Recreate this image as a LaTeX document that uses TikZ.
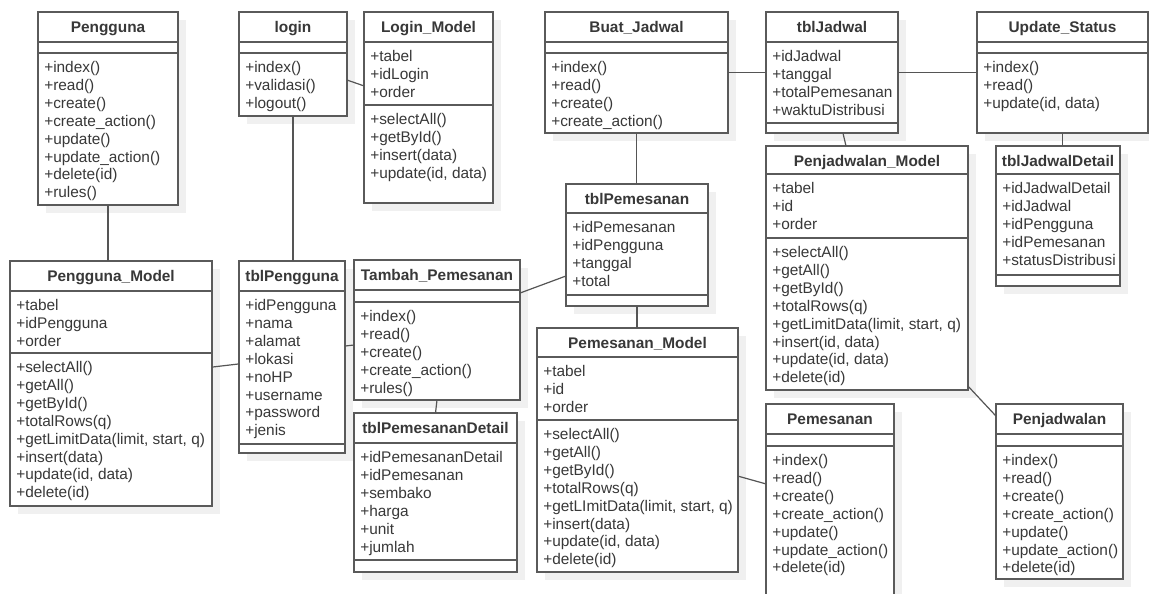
\documentclass[tikz,border=0pt]{standalone}
\usepackage{fontspec}
\setmainfont{Liberation Sans}
\usetikzlibrary{fit,calc}
\definecolor{boxline}{HTML}{5A5A5A}
\definecolor{shadowc}{HTML}{F0F0F0}
\definecolor{txtc}{HTML}{383838}
\definecolor{connc}{HTML}{555555}
\tikzset{
  classbox/.style={draw=boxline, fill=white, line width=1.2pt, inner sep=0pt, outer sep=0pt},
  classline/.style={draw=boxline, line width=1.2pt},
  titletxt/.style={font=\fontsize{11.55}{13.4}\selectfont\bfseries, text=txtc, inner sep=0pt},
  itemtxt/.style={font=\fontsize{11.55}{13.4}\selectfont, text=txtc, inner sep=0pt},
  conn/.style={draw=connc, line width=0.9pt},
}
% #1 name, #2 left, #3 top, #4 right, #5 bottom, #6 title, #7 first separator, #8 second separator
\newcommand\umlclass[8]{%
  \fill[shadowc] (#2+8,#3+8) rectangle (#4+8,#5+8);
  \node[classbox, fit={(#2,#3) (#4,#5)}] (#1) {};
  \node[titletxt, anchor=base] (#1-title) at ({(#2+#4)/2}, #3+20.5) {#6};
  \draw[classline] (#2,#7) -- (#4,#7);
  \draw[classline] (#2,#8) -- (#4,#8);
}
% #1 name prefix, #2 left, #3 separator above, #4 list of lines
\newcommand\umlitems[4]{%
  \foreach \t [count=\i from 0] in {#4} {%
    \node[itemtxt, anchor=base west] (#1-\i) at (#2+6, #3+19.5+\i*17.9) {\t};
  }%
}
\begin{document}
\begin{tikzpicture}[x=0.75pt, y=-0.75pt]
\useasboundingbox (0,0) rectangle (1149,593);
\fill[white] (0,0) rectangle (1149,593);
\clip (0,0) rectangle (1149,593);

% Pengguna
\umlclass{pengguna}{38}{12}{178}{205}{Pengguna}{42}{53}
\umlitems{pengguna-m}{38}{53}{+index(),+read(),+create(),+create\_action(),+update(),+update\_action(),+delete(id),+rules()}

% login
\umlclass{login}{239}{12}{347}{116}{login}{42}{53}
\umlitems{login-m}{239}{53}{+index(),+validasi(),+logout()}

% Login_Model
\umlclass{loginmodel}{364}{12}{493}{203}{Login\_Model}{42}{105}
\umlitems{loginmodel-a}{364}{42}{+tabel,+idLogin,+order}
\umlitems{loginmodel-m}{364}{105}{+selectAll(),+getById(),+insert(data),{+update(id, data)}}

% Buat_Jadwal
\umlclass{buatjadwal}{545}{12}{728}{133}{Buat\_Jadwal}{42}{53}
\umlitems{buatjadwal-m}{545}{53}{+index(),+read(),+create(),+create\_action()}

% tblJadwal
\umlclass{tbljadwal}{766}{12}{898}{133}{tblJadwal}{42}{123}
\umlitems{tbljadwal-a}{766}{42}{+idJadwal,+tanggal,+totalPemesanan,+waktuDistribusi}

% Update_Status
\umlclass{updatestatus}{977}{12}{1148}{133}{Update\_Status}{42}{53}
\umlitems{updatestatus-m}{977}{53}{+index(),+read(),{+update(id, data)}}

% tblJadwalDetail
\umlclass{tbljadwaldetail}{996}{146}{1120}{286}{tblJadwalDetail}{174}{275}
\umlitems{tbljadwaldetail-a}{996}{174}{+idJadwalDetail,+idJadwal,+idPengguna,+idPemesanan,+statusDistribusi}

% Penjadwalan_Model
\umlclass{penjadwalanmodel}{766}{146}{968}{390}{Penjadwalan\_Model}{174}{238}
\umlitems{penjadwalanmodel-a}{766}{174}{+tabel,+id,+order}
\umlitems{penjadwalanmodel-m}{766}{238}{+selectAll(),+getAll(),+getById(),+totalRows(q),{+getLimitData(limit, start, q)},{+insert(id, data)},{+update(id, data)},+delete(id)}

% Penjadwalan
\umlclass{penjadwalan}{996}{404}{1123}{579}{Penjadwalan}{434}{446}
\umlitems{penjadwalan-m}{996}{446}{+index(),+read(),+create(),+create\_action(),+update(),+update\_action(),+delete(id)}

% Pemesanan
\umlclass{pemesanan}{766}{404}{894}{610}{Pemesanan}{434}{446}
\umlitems{pemesanan-m}{766}{446}{+index(),+read(),+create(),+create\_action(),+update(),+update\_action(),+delete(id)}

% tblPemesanan
\umlclass{tblpemesanan}{566}{184}{708}{306}{tblPemesanan}{213}{295}
\umlitems{tblpemesanan-a}{566}{213}{+idPemesanan,+idPengguna,+tanggal,+total}

% Pemesanan_Model
\umlclass{pemesananmodel}{537}{328}{738}{572}{Pemesanan\_Model}{357}{420}
\umlitems{pemesananmodel-a}{537}{357}{+tabel,+id,+order}
\umlitems{pemesananmodel-m}{537}{420}{+selectAll(),+getAll(),+getById(),+totalRows(q),{+getLImitData(limit, start, q)},+insert(data),{+update(id, data)},+delete(id)}

% Tambah_Pemesanan
\umlclass{tambahpemesanan}{354}{260}{520}{400}{Tambah\_Pemesanan}{290}{302}
\umlitems{tambahpemesanan-m}{354}{302}{+index(),+read(),+create(),+create\_action(),+rules()}

% tblPemesananDetail
\umlclass{tblpemesanandetail}{354}{413}{517}{572}{tblPemesananDetail}{443}{560}
\umlitems{tblpemesanandetail-a}{354}{443}{+idPemesananDetail,+idPemesanan,+sembako,+harga,+unit,+jumlah}

% tblPengguna
\umlclass{tblpengguna}{239}{261}{345}{453}{tblPengguna}{291}{444}
\umlitems{tblpengguna-a}{239}{291}{+idPengguna,+nama,+alamat,+lokasi,+noHP,+username,+password,+jenis}

% Pengguna_Model
\umlclass{penggunamodel}{10}{261}{212}{506}{Pengguna\_Model}{291}{353}
\umlitems{penggunamodel-a}{10}{291}{+tabel,+idPengguna,+order}
\umlitems{penggunamodel-m}{10}{353}{+selectAll(),+getAll(),+getById(),+totalRows(q),{+getLimitData(limit, start, q)},+insert(data),{+update(id, data)},+delete(id)}

% connectors
\draw[conn] (pengguna.south) -- (pengguna.south |- penggunamodel.north);
\draw[conn] (login.south) -- (login.south |- tblpengguna.north);
\draw[conn] ($(login.north east)!0.654!(login.south east)$) -- ($(loginmodel.north west)!0.387!(loginmodel.south west)$);
\draw[conn] ($(penggunamodel.north east)!0.433!(penggunamodel.south east)$) -- ($(tblpengguna.north west)!0.536!(tblpengguna.south west)$);
\draw[conn] ($(tblpengguna.north east)!0.443!(tblpengguna.south east)$) -- ($(tambahpemesanan.north west)!0.607!(tambahpemesanan.south west)$);
\draw[conn] ($(tambahpemesanan.north east)!0.236!(tambahpemesanan.south east)$) -- ($(tblpemesanan.north west)!0.754!(tblpemesanan.south west)$);
\draw[conn] (tambahpemesanan.south) -- (tblpemesanandetail.north);
\draw[conn] (buatjadwal.south) -- (buatjadwal.south |- tblpemesanan.north);
\draw[conn] (tblpemesanan.south) -- (tblpemesanan.south |- pemesananmodel.north);
\draw[conn] (buatjadwal.east) -- (tbljadwal.west);
\draw[conn] (tbljadwal.east) -- (updatestatus.west);
\draw[conn] (updatestatus.south) -- (updatestatus.south |- tbljadwaldetail.north);
\draw[conn] ($(tbljadwal.south west)!0.583!(tbljadwal.south east)$) -- ($(penjadwalanmodel.north west)!0.396!(penjadwalanmodel.north east)$);
\draw[conn] ($(penjadwalanmodel.north east)!0.984!(penjadwalanmodel.south east)$) -- ($(penjadwalan.north west)!0.069!(penjadwalan.south west)$);
\draw[conn] ($(pemesananmodel.north east)!0.607!(pemesananmodel.south east)$) -- ($(pemesanan.north west)!0.388!(pemesanan.south west)$);
\end{tikzpicture}
\end{document}
